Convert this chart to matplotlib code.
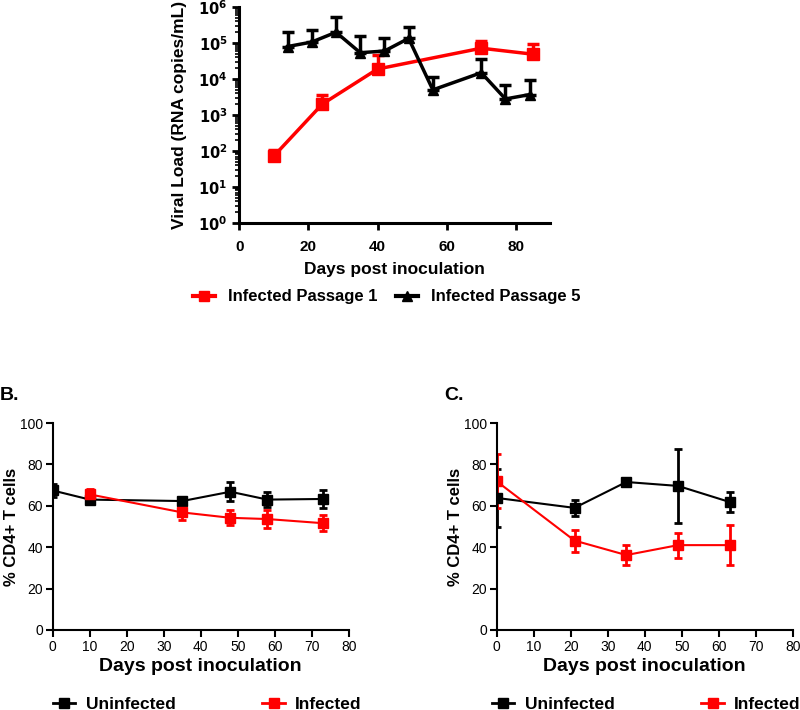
import numpy as np
import matplotlib.pyplot as plt
from matplotlib.lines import Line2D
from matplotlib.ticker import LogLocator, NullFormatter

plt.rcParams['font.family'] = ['Liberation Sans', 'DejaVu Sans']

# A: viral load
p1_days = [10, 24, 40, 70, 85]
p1_load = [72, 2000, 19000, 72000, 49000]
p1_upper = [110, 3600, 47000, 115000, 93000]

p5_days = [14, 21, 28, 35, 42, 49, 56, 70, 77, 84]
p5_load = [80000, 107000, 200000, 54000, 60000, 135000, 5000, 15000, 2800, 3700]
p5_upper = [200000, 230000, 530000, 155000, 135000, 280000, 11500, 35000, 6800, 9300]

# B: CD4+ T cells
b_uninf_days = [0, 10, 35, 48, 58, 73]
b_uninf = [67.4, 63.0, 62.3, 66.8, 63.0, 63.3]
b_uninf_err = [3.0, 2.0, 2.0, 4.5, 3.7, 4.5]
b_inf_days = [10, 35, 48, 58, 73]
b_inf = [65.5, 56.8, 54.2, 53.6, 51.6]
b_inf_err = [2.5, 3.6, 3.7, 4.3, 4.0]

# C: CD4+ T cells
c_uninf_days = [0, 21, 35, 49, 63]
c_uninf = [63.8, 59.0, 71.5, 69.6, 61.8]
c_uninf_err = [14, 4, 2, 18, 5]
c_inf_days = [0, 21, 35, 49, 63]
c_inf = [71.8, 43.2, 36.2, 41.0, 41.0]
c_inf_err = [13, 5.3, 4.8, 6, 9.7]

RED = '#ff0000'
fig = plt.figure(figsize=(8, 7.1), dpi=100)

# ---- top panel
ax = fig.add_axes([0.299, 0.686, 0.389, 0.304])
up1 = np.array(p1_upper) - np.array(p1_load)
up5 = np.array(p5_upper) - np.array(p5_load)
ax.errorbar(p1_days, p1_load, yerr=[np.zeros(len(up1)), up1], color=RED,
            marker='s', ms=8, lw=2.5, elinewidth=2.5, capsize=4, capthick=2.5)
ax.errorbar(p5_days, p5_load, yerr=[np.zeros(len(up5)), up5], color='black',
            marker='^', ms=7, lw=2.5, elinewidth=2.5, capsize=4, capthick=2.5)
ax.set_yscale('log')
ax.set_ylim(1, 1e6)
ax.set_xlim(0, 90)
ax.set_xticks([0, 20, 40, 60, 80])
ax.set_yticks([10.0 ** k for k in range(7)])
ax.set_yticklabels([r'$\mathbf{10^{%d}}$' % k for k in range(7)])
ax.yaxis.set_minor_locator(LogLocator(base=10, subs=np.arange(2, 10), numticks=20))
ax.yaxis.set_minor_formatter(NullFormatter())
for s in ['top', 'right']:
    ax.spines[s].set_visible(False)
for s in ['left', 'bottom']:
    ax.spines[s].set_linewidth(2.2)
ax.tick_params(which='major', width=2, length=5, labelsize=10.5)
ax.tick_params(axis='x', pad=7, labelsize=11)
ax.tick_params(which='minor', width=1.2, length=3)
for lb in ax.get_xticklabels():
    lb.set_fontweight('bold')
ax.set_xlabel('Days post inoculation', fontsize=12.5, fontweight='bold', labelpad=6)
ax.set_ylabel('Viral Load (RNA copies/mL)', fontsize=12.5, fontweight='bold', labelpad=8)
top_handles = [Line2D([], [], color=RED, marker='s', ms=7, lw=3),
               Line2D([], [], color='black', marker='^', ms=7, lw=3)]
ax.legend(top_handles, ['Infected Passage 1', 'Infected Passage 5'], loc='center',
          bbox_to_anchor=(0.475, -0.343), ncol=2, frameon=False,
          prop={'weight': 'bold', 'size': 12}, handlelength=1.3,
          handletextpad=0.8, columnspacing=1.1)


def cd4_panel(rect, letter, legend_x, ud, uv, ue, idd, iv, ie):
    a = fig.add_axes(rect)
    a.errorbar(ud, uv, yerr=ue, color='black', marker='s', ms=7, lw=1.5,
               elinewidth=2, capsize=3, capthick=2)
    a.errorbar(idd, iv, yerr=ie, color=RED, marker='s', ms=7, lw=1.5,
               elinewidth=2, capsize=3, capthick=2)
    a.set_xlim(0, 80)
    a.set_ylim(0, 100)
    a.set_xticks(range(0, 81, 10))
    a.set_yticks(range(0, 101, 20))
    for s in ['top', 'right']:
        a.spines[s].set_visible(False)
    for s in ['left', 'bottom']:
        a.spines[s].set_linewidth(1.5)
    a.tick_params(width=1.5, length=5, labelsize=10, pad=2)
    a.set_xlabel('Days post inoculation', fontsize=14, fontweight='bold', labelpad=3)
    a.set_ylabel('% CD4+ T cells', fontsize=12, fontweight='bold')
    a.yaxis.set_label_coords(-0.115, 0.5)
    a.text(-0.178, 1.135, letter, transform=a.transAxes,
           fontsize=14, fontweight='bold', va='center', ha='left')
    hs = [Line2D([], [], color='black', marker='s', ms=7, lw=2),
          Line2D([], [], color=RED, marker='s', ms=7, lw=2)]
    a.legend(hs, ['Uninfected', 'Infected'], loc='center',
             bbox_to_anchor=(legend_x, -0.362), ncol=2, frameon=False,
             prop={'weight': 'bold', 'size': 12.5}, handlelength=1.3,
             handletextpad=0.6, columnspacing=5.0)
    return a


cd4_panel([0.066, 0.1127, 0.37, 0.2915], 'B.', 0.522, b_uninf_days, b_uninf,
          b_uninf_err, b_inf_days, b_inf, b_inf_err)
cd4_panel([0.621, 0.1127, 0.37, 0.2915], 'C.', 0.505, c_uninf_days, c_uninf,
          c_uninf_err, c_inf_days, c_inf, c_inf_err)

fig.savefig('out.png', dpi=100)
